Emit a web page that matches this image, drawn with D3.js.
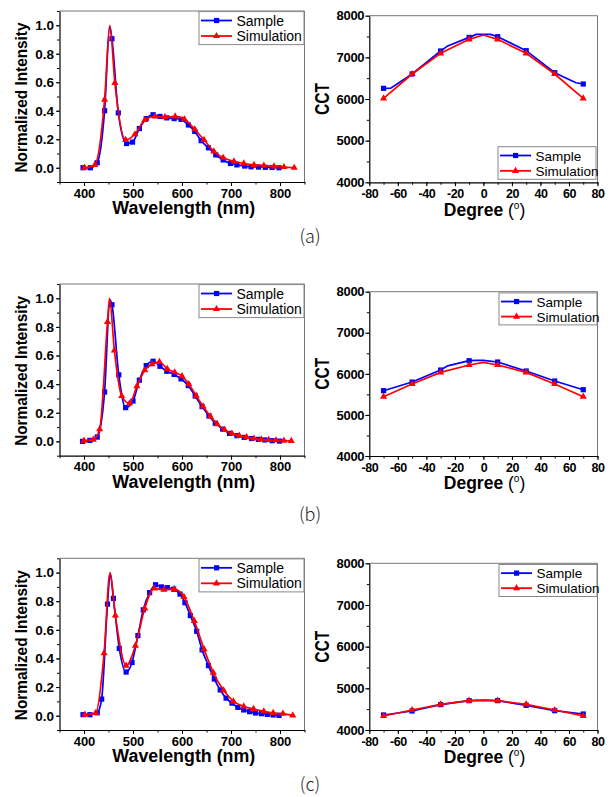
<!DOCTYPE html>
<html>
<head>
<meta charset="utf-8">
<script src="https://cdnjs.cloudflare.com/ajax/libs/d3/7.8.5/d3.min.js"></script>
<style>
  body { margin: 0; background: #fff; }
  svg { display: block; font-family: "Liberation Sans", Arial, sans-serif; }
</style>
</head>
<body>
<div id="chart"></div>
<script>
// ---------- tick labels / categories ----------
var waveTicks = [400, 500, 600, 700, 800];
var intensityTicks = [0.0, 0.2, 0.4, 0.6, 0.8, 1.0];
var degreeTicks = [-80, -60, -40, -20, 0, 20, 40, 60, 80];
var cctTicks = [4000, 5000, 6000, 7000, 8000];
var seriesNames = ["Sample", "Simulation"];
var panelLabels = ["(a)", "(b)", "(c)"];

// ---------- spectra (markers + apex points that carry no marker) ----------
// (a)
var waveSampleA = [398, 413, 427, 442, 457, 470, 487, 499, 513, 527, 541, 555, 569, 584, 598, 613, 626, 639, 654, 669, 684, 699, 712, 728, 741, 756, 770, 784, 798];
var valSampleA = [0.0, 0.0, 0.035, 0.40, 0.905, 0.385, 0.17, 0.18, 0.275, 0.345, 0.372, 0.36, 0.35, 0.345, 0.34, 0.30, 0.255, 0.19, 0.14, 0.09, 0.055, 0.03, 0.02, 0.012, 0.007, 0.005, 0.003, 0.002, 0.0];
var apexSampleA = [[452.5, 0.99]];
var waveSimA = [401, 422, 442, 463, 485, 504, 524, 545, 565, 586, 605, 626, 645, 665, 684, 706, 726, 747, 767, 788, 808, 829];
var valSimA = [0.0, 0.02, 0.478, 0.596, 0.195, 0.235, 0.335, 0.36, 0.355, 0.36, 0.34, 0.27, 0.195, 0.115, 0.07, 0.045, 0.03, 0.02, 0.015, 0.01, 0.005, 0.0];
var apexSimA = [[452.7, 1.0]];

// (b)
var waveSampleB = [397, 412, 427, 442, 457, 471, 485, 500, 513, 527, 541, 555, 569, 584, 598, 613, 627, 641, 655, 668, 683, 697, 712, 727, 742, 756, 769, 784, 799];
var valSampleB = [0.0, 0.007, 0.03, 0.345, 0.955, 0.465, 0.236, 0.282, 0.428, 0.53, 0.56, 0.525, 0.49, 0.468, 0.437, 0.39, 0.317, 0.243, 0.178, 0.127, 0.086, 0.056, 0.04, 0.028, 0.02, 0.014, 0.01, 0.005, 0.002];
var apexSampleB = [[453, 0.99]];
var waveSimB = [400, 419, 432, 448, 462, 477, 493, 508, 524, 539, 554, 570, 585, 600, 614, 629, 643, 658, 672, 687, 702, 717, 732, 747, 762, 777, 792, 808, 823];
var valSimB = [0.005, 0.012, 0.085, 0.835, 0.636, 0.317, 0.266, 0.386, 0.497, 0.54, 0.555, 0.507, 0.483, 0.456, 0.40, 0.32, 0.245, 0.175, 0.12, 0.08, 0.055, 0.04, 0.03, 0.02, 0.013, 0.01, 0.008, 0.005, 0.003];
var apexSimB = [[452, 1.0]];

// (c)
var waveSampleC = [398, 412, 427, 436, 448, 460, 472, 486, 498, 510, 521, 534, 546, 558, 570, 583, 596, 606, 617, 630, 641, 654, 666, 678, 690, 702, 714, 726, 738, 750, 762, 774, 786, 798];
var valSampleC = [0.007, 0.007, 0.02, 0.116, 0.78, 0.82, 0.47, 0.305, 0.372, 0.56, 0.74, 0.86, 0.915, 0.90, 0.895, 0.884, 0.85, 0.79, 0.70, 0.59, 0.46, 0.35, 0.256, 0.18, 0.123, 0.088, 0.058, 0.04, 0.028, 0.019, 0.014, 0.009, 0.005, 0.002];
var apexSampleC = [[453.5, 0.995]];
var waveSimC = [402, 424, 441, 464, 486, 505, 524, 543, 563, 584, 604, 625, 645, 664, 685, 705, 726, 746, 767, 786, 806, 826];
var valSimC = [0.007, 0.02, 0.437, 0.70, 0.35, 0.49, 0.75, 0.89, 0.88, 0.885, 0.83, 0.663, 0.465, 0.30, 0.177, 0.10, 0.065, 0.047, 0.03, 0.019, 0.014, 0.002];
var apexSimC = [[453, 1.0]];

// ---------- CCT vs angle ----------
var degrees = [-70, -50, -30, -10, 10, 30, 50, 70];
var cctSampleA = [6256, 6600, 7152, 7480, 7496, 7160, 6632, 6360];
var cctSampleExtraA = [[-65, 6262], [-25, 7275], [-5, 7550], [5, 7550], [60, 6470], [65, 6390]];
var cctSimA = [6016, 6600, 7096, 7432, 7432, 7096, 6600, 6016];
var cctSimExtraA = [[0, 7536]];

var cctSampleB = [5590, 5801, 6093, 6320, 6288, 6069, 5825, 5614];
var cctSampleExtraB = [[-25, 6195], [-5, 6330], [0, 6330]];
var cctSimB = [5444, 5752, 6036, 6215, 6215, 6036, 5752, 5444];
var cctSimExtraB = [[0, 6280]];

var cctSampleC = [4360, 4456, 4608, 4704, 4704, 4592, 4464, 4384];
var cctSampleExtraC = [[0, 4712]];
var cctSimC = [4336, 4480, 4616, 4704, 4704, 4616, 4480, 4336];
var cctSimExtraC = [[0, 4720]];

// ---------- layout ----------
var W = 616, H = 797;
var blue = "#0000ff", red = "#ff0000";

var svg = d3.select("#chart")
  .append("svg")
  .attr("width", W)
  .attr("height", H);

function pts(xs, ys) {
  return xs.map(function (v, i) { return [v, ys[i]]; });
}
function merged(xs, ys, extra) {
  return pts(xs, ys).concat(extra).sort(function (a, b) { return a[0] - b[0]; });
}

var panels = [
  { label: panelLabels[0], lt: 11, lb: 182, rt: 15.7, rb: 182.3, capY: 243, legBottom: true,
    sample: [waveSampleA, valSampleA, apexSampleA], sim: [waveSimA, valSimA, apexSimA],
    cSample: [cctSampleA, cctSampleExtraA], cSim: [cctSimA, cctSimExtraA] },
  { label: panelLabels[1], lt: 284, lb: 455.7, rt: 291.7, rb: 456, capY: 521, legBottom: false,
    sample: [waveSampleB, valSampleB, apexSampleB], sim: [waveSimB, valSimB, apexSimB],
    cSample: [cctSampleB, cctSampleExtraB], cSim: [cctSimB, cctSimExtraB] },
  { label: panelLabels[2], lt: 558.3, lb: 730, rt: 563.3, rb: 730, capY: 791, legBottom: false,
    sample: [waveSampleC, valSampleC, apexSampleC], sim: [waveSimC, valSimC, apexSimC],
    cSample: [cctSampleC, cctSampleExtraC], cSim: [cctSimC, cctSimExtraC] }
];

// draws frame (black left/bottom, grey top/right)
function frame(g, x0, x1, y0, y1) {
  g.append("line").attr("x1", x0).attr("x2", x1).attr("y1", y0).attr("y2", y0)
    .attr("stroke", "#777").attr("stroke-width", 1);
  g.append("line").attr("x1", x1).attr("x2", x1).attr("y1", y0).attr("y2", y1)
    .attr("stroke", "#777").attr("stroke-width", 1);
}

function styleAxis(ax, size) {
  ax.select(".domain").attr("stroke", "#000").attr("stroke-width", 1.2);
  ax.selectAll(".tick line").attr("stroke", "#000").attr("stroke-width", 1);
  ax.selectAll("text")
    .attr("fill", "#000")
    .attr("font-size", size)
    .attr("font-weight", "bold");
}

function drawMarkers(g, data, x, y, kind, color) {
  if (kind === "square") {
    g.selectAll(null).data(data).enter().append("rect")
      .attr("x", function (d) { return x(d[0]) - 2.6; })
      .attr("y", function (d) { return y(d[1]) - 2.6; })
      .attr("width", 5.2).attr("height", 5.2)
      .attr("fill", color);
  } else {
    g.selectAll(null).data(data).enter().append("path")
      .attr("d", d3.symbol(d3.symbolTriangle).size(22))
      .attr("transform", function (d) { return "translate(" + x(d[0]) + "," + y(d[1]) + ")"; })
      .attr("fill", color);
  }
}

function legend(g, bx, by, bw, bh, fs) {
  g.append("rect").attr("x", bx).attr("y", by).attr("width", bw).attr("height", bh)
    .attr("fill", "#fff").attr("stroke", "#888").attr("stroke-width", 1);
  var rows = [by + bh * 0.27, by + bh * 0.74];
  seriesNames.forEach(function (name, i) {
    var color = i === 0 ? blue : red;
    g.append("line").attr("x1", bx + 2).attr("x2", bx + 33)
      .attr("y1", rows[i]).attr("y2", rows[i])
      .attr("stroke", color).attr("stroke-width", 1.8);
    if (i === 0) {
      g.append("rect").attr("x", bx + 15).attr("y", rows[i] - 2.6)
        .attr("width", 5.2).attr("height", 5.2).attr("fill", color);
    } else {
      g.append("path").attr("d", d3.symbol(d3.symbolTriangle).size(22)())
        .attr("transform", "translate(" + (bx + 17.5) + "," + rows[i] + ")")
        .attr("fill", color);
    }
    g.append("text").attr("x", bx + 37.5).attr("y", rows[i] + 5)
      .attr("font-size", fs).attr("fill", "#000")
      .text(name);
  });
}

panels.forEach(function (p) {
  // ----- spectrum -----
  var g = svg.append("g");
  var x = d3.scaleLinear().domain([350, 850]).range([59.5, 304.5]);
  var y = d3.scaleLinear().domain([-0.1, 1.1]).range([p.lb, p.lt]);

  frame(g, 59.5, 304.5, p.lt, p.lb);

  // minor ticks
  g.append("g").attr("transform", "translate(0," + p.lb + ")")
    .call(d3.axisBottom(x).tickValues(d3.range(350, 851, 50)).tickSize(2.5).tickFormat(""))
    .call(function (a) { a.select(".domain").remove(); a.selectAll("line").attr("stroke", "#000"); });
  g.append("g").attr("transform", "translate(59.5,0)")
    .call(d3.axisLeft(y).tickValues(d3.range(-0.1, 1.11, 0.1)).tickSize(2.5).tickFormat(""))
    .call(function (a) { a.select(".domain").remove(); a.selectAll("line").attr("stroke", "#000"); });

  var xa = g.append("g").attr("transform", "translate(0," + p.lb + ")")
    .call(d3.axisBottom(x).tickValues(waveTicks).tickSize(4).tickSizeOuter(0).tickPadding(2.5));
  styleAxis(xa, 13);
  var ya = g.append("g").attr("transform", "translate(59.5,0)")
    .call(d3.axisLeft(y).tickValues(intensityTicks).tickSize(3.5).tickSizeOuter(0).tickPadding(2)
      .tickFormat(d3.format(".1f")));
  styleAxis(ya, 13.5);

  var line = d3.line().curve(d3.curveMonotoneX)
    .x(function (d) { return x(d[0]); })
    .y(function (d) { return y(d[1]); });

  g.append("path").datum(merged(p.sample[0], p.sample[1], p.sample[2]))
    .attr("fill", "none").attr("stroke", blue).attr("stroke-width", 1.7).attr("d", line);
  drawMarkers(g, pts(p.sample[0], p.sample[1]), x, y, "square", blue);
  g.append("path").datum(merged(p.sim[0], p.sim[1], p.sim[2]))
    .attr("fill", "none").attr("stroke", red).attr("stroke-width", 1.7).attr("d", line);
  drawMarkers(g, pts(p.sim[0], p.sim[1]), x, y, "triangle", red);

  legend(g, 199, p.lt + 0.6, 105, 33, 14);

  // axis titles
  g.append("text")
    .attr("x", 183.8).attr("y", p.lb + 32.3)
    .attr("text-anchor", "middle").attr("font-size", 17.5).attr("font-weight", "bold")
    .attr("textLength", 143).attr("lengthAdjust", "spacingAndGlyphs")
    .text("Wavelength (nm)");
  g.append("text")
    .attr("transform", "translate(27.3," + ((p.lt + p.lb) / 2 + 1) + ") rotate(-90)")
    .attr("text-anchor", "middle").attr("font-size", 16.5).attr("font-weight", "bold")
    .attr("textLength", 150).attr("lengthAdjust", "spacingAndGlyphs")
    .text("Normalized Intensity");

  // ----- CCT -----
  var g2 = svg.append("g");
  var cx = d3.scaleLinear().domain([-80, 80]).range([369.3, 597.5]);
  var cy = d3.scaleLinear().domain([4000, 8000]).range([p.rb, p.rt]);

  frame(g2, 369.3, 597.5, p.rt, p.rb);

  g2.append("g").attr("transform", "translate(0," + p.rb + ")")
    .call(d3.axisBottom(cx).tickValues(d3.range(-80, 81, 10)).tickSize(2.5).tickFormat(""))
    .call(function (a) { a.select(".domain").remove(); a.selectAll("line").attr("stroke", "#000"); });
  g2.append("g").attr("transform", "translate(369.3,0)")
    .call(d3.axisLeft(cy).tickValues(d3.range(4000, 8001, 500)).tickSize(2.5).tickFormat(""))
    .call(function (a) { a.select(".domain").remove(); a.selectAll("line").attr("stroke", "#000"); });

  var cxa = g2.append("g").attr("transform", "translate(0," + p.rb + ")")
    .call(d3.axisBottom(cx).tickValues(degreeTicks).tickSize(4).tickSizeOuter(0).tickPadding(3)
      .tickFormat(function (d) { return String(d); }));
  styleAxis(cxa, 12.5);
  cxa.selectAll("text").attr("letter-spacing", -0.5);
  var cya = g2.append("g").attr("transform", "translate(369.3,0)")
    .call(d3.axisLeft(cy).tickValues(cctTicks).tickSize(4).tickSizeOuter(0).tickPadding(1)
      .tickFormat(function (d) { return String(d); }));
  styleAxis(cya, 13);
  cya.selectAll("text").attr("letter-spacing", -0.3);

  var cline = d3.line()
    .x(function (d) { return cx(d[0]); })
    .y(function (d) { return cy(d[1]); });

  g2.append("path").datum(merged(degrees, p.cSample[0], p.cSample[1]))
    .attr("fill", "none").attr("stroke", blue).attr("stroke-width", 1.7).attr("d", cline);
  drawMarkers(g2, pts(degrees, p.cSample[0]), cx, cy, "square", blue);
  g2.append("path").datum(merged(degrees, p.cSim[0], p.cSim[1]))
    .attr("fill", "none").attr("stroke", red).attr("stroke-width", 1.7).attr("d", cline);
  drawMarkers(g2, pts(degrees, p.cSim[0]), cx, cy, "triangle", red);

  if (p.legBottom) legend(g2, 498, p.rb - 35.6, 98, 32.6, 13.5);
  else legend(g2, 499, p.rt + 1.2, 98, 32, 13.5);

  var dt = g2.append("text")
    .attr("x", 484.5).attr("y", p.rb + 33.2)
    .attr("text-anchor", "middle").attr("font-size", 17.5).attr("fill", "#000");
  dt.append("tspan").attr("font-weight", "bold").text("Degree ");
  dt.append("tspan").text("(");
  dt.append("tspan").attr("font-size", 10).attr("dy", -7).text("o");
  dt.append("tspan").attr("dy", 7).text(")");

  g2.append("text")
    .attr("transform", "translate(329," + ((p.rt + p.rb) / 2) + ") rotate(-90)")
    .attr("text-anchor", "middle").attr("font-size", 21).attr("font-weight", "bold")
    .attr("textLength", 32).attr("lengthAdjust", "spacingAndGlyphs")
    .text("CCT");

  // panel caption
  svg.append("text")
    .attr("x", 310).attr("y", p.capY)
    .attr("text-anchor", "middle")
    .attr("font-family", "'Noto Sans CJK KR', 'Noto Sans', sans-serif")
    .attr("font-weight", 300).attr("font-size", 18).attr("fill", "#222")
    .text(p.label);
});
</script>
</body>
</html>
